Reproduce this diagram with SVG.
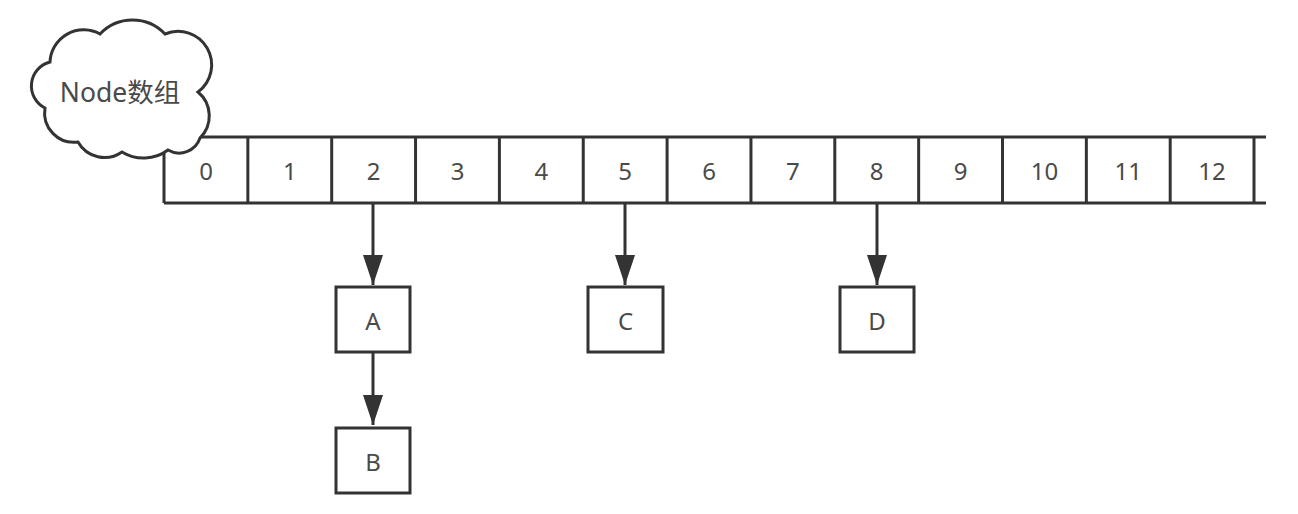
<svg xmlns="http://www.w3.org/2000/svg" width="1298" height="514" viewBox="0 0 1298 514">
  <style>
    .ln { fill: none; stroke: #333; stroke-width: 3; }
    .box { fill: #fff; stroke: #333; stroke-width: 3; }
    .t { font-family: "Noto Sans", "Noto Sans CJK SC", sans-serif; font-size: 24px; fill: #4a4a4a; text-anchor: middle; dominant-baseline: central; }
    .big { font-size: 26.5px; }
  </style>
  <defs>
    <marker id="arr" markerUnits="userSpaceOnUse" markerWidth="32" markerHeight="22" refX="30" refY="10" orient="auto">
      <path d="M0,0 L30,10 L0,20 Z" fill="#333"/>
    </marker>
  </defs>
  <rect width="1298" height="514" fill="#fff"/>

  <g id="array">
    <line class="ln" x1="164" y1="137" x2="1266" y2="137"/>
    <line class="ln" x1="164" y1="203" x2="1266" y2="203"/>
    <g id="cell0"><line class="ln" x1="164" y1="137" x2="164" y2="203"/><text class="t" x="206" y="170">0</text></g>
    <g id="cell1"><line class="ln" x1="247.85" y1="137" x2="247.85" y2="203"/><text class="t" x="289.8" y="170">1</text></g>
    <g id="cell2"><line class="ln" x1="331.7" y1="137" x2="331.7" y2="203"/><text class="t" x="373.6" y="170">2</text></g>
    <g id="cell3"><line class="ln" x1="415.55" y1="137" x2="415.55" y2="203"/><text class="t" x="457.5" y="170">3</text></g>
    <g id="cell4"><line class="ln" x1="499.4" y1="137" x2="499.4" y2="203"/><text class="t" x="541.3" y="170">4</text></g>
    <g id="cell5"><line class="ln" x1="583.25" y1="137" x2="583.25" y2="203"/><text class="t" x="625.2" y="170">5</text></g>
    <g id="cell6"><line class="ln" x1="667.1" y1="137" x2="667.1" y2="203"/><text class="t" x="709" y="170">6</text></g>
    <g id="cell7"><line class="ln" x1="750.95" y1="137" x2="750.95" y2="203"/><text class="t" x="792.9" y="170">7</text></g>
    <g id="cell8"><line class="ln" x1="834.8" y1="137" x2="834.8" y2="203"/><text class="t" x="876.7" y="170">8</text></g>
    <g id="cell9"><line class="ln" x1="918.65" y1="137" x2="918.65" y2="203"/><text class="t" x="960.6" y="170">9</text></g>
    <g id="cell10"><line class="ln" x1="1002.5" y1="137" x2="1002.5" y2="203"/><text class="t" x="1044.4" y="170">10</text></g>
    <g id="cell11"><line class="ln" x1="1086.35" y1="137" x2="1086.35" y2="203"/><text class="t" x="1128.3" y="170">11</text></g>
    <g id="cell12"><line class="ln" x1="1170.2" y1="137" x2="1170.2" y2="203"/><text class="t" x="1212.1" y="170">12</text></g>
    <line class="ln" x1="1254" y1="137" x2="1254" y2="203"/>
  </g>

  <g id="cloud">
    <path class="box" d="M50,62 A33.7,33.7 0 0 1 100,34 A44.7,44.7 0 0 1 165,34 A33.6,33.6 0 0 1 198,92 A31,31 0 0 1 200,138 A22,22 0 0 1 168,150 A41,41 0 0 1 122,152 A30.5,30.5 0 0 1 78,142 A29.4,29.4 0 0 1 45,108 A24.7,24.7 0 0 1 50,62 Z"/>
    <text class="t big" x="120" y="92">Node数组</text>
  </g>

  <g id="connectors">
    <line class="ln" x1="373" y1="203" x2="373" y2="285" marker-end="url(#arr)"/>
    <line class="ln" x1="373" y1="352" x2="373" y2="425" marker-end="url(#arr)"/>
    <line class="ln" x1="625" y1="203" x2="625" y2="285" marker-end="url(#arr)"/>
    <line class="ln" x1="877" y1="203" x2="877" y2="285" marker-end="url(#arr)"/>
  </g>

  <g id="nodeA"><rect class="box" x="336" y="287" width="74" height="65"/><text class="t" x="373" y="320">A</text></g>
  <g id="nodeB"><rect class="box" x="336" y="428" width="74" height="65"/><text class="t" x="373" y="461">B</text></g>
  <g id="nodeC"><rect class="box" x="588" y="287" width="75" height="65"/><text class="t" x="625.5" y="320">C</text></g>
  <g id="nodeD"><rect class="box" x="840" y="287" width="74" height="65"/><text class="t" x="877" y="320">D</text></g>
</svg>
